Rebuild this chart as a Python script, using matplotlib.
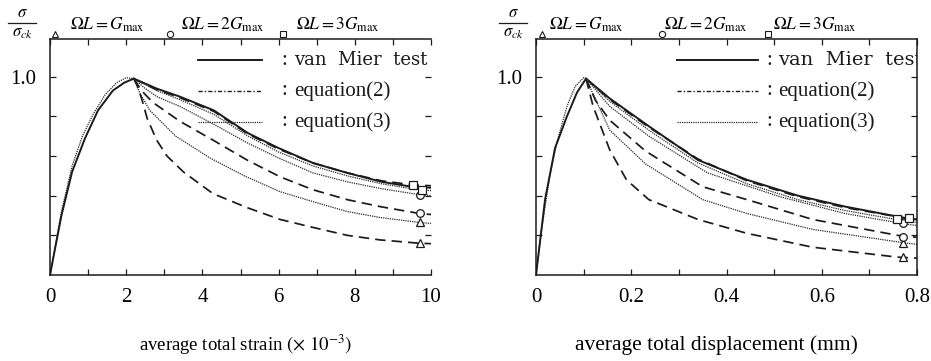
import matplotlib
matplotlib.use("Agg")
import matplotlib.pyplot as plt
from matplotlib.lines import Line2D
import numpy as np

plt.rcParams['font.family'] = ['Liberation Serif', 'DejaVu Serif']
plt.rcParams['mathtext.fontset'] = 'stix'

W, H = 931, 361

# ---- left panel: strain (x10^-3) ----
L_up_model_x = [0, 0.3, 0.58, 0.85, 1.13, 1.45, 1.75, 2.0, 2.2]
L_up_model_y = [0, 0.32, 0.55, 0.70, 0.81, 0.91, 0.97, 0.995, 0.99]
L_up_test_x = [0, 0.3, 0.58, 0.92, 1.26, 1.65, 1.95, 2.2]
L_up_test_y = [0, 0.30, 0.52, 0.69, 0.83, 0.93, 0.97, 0.99]

L_test_x = [2.2, 2.8, 3.4, 4.3, 5.2, 6.0, 6.9, 7.8, 8.7, 9.5, 10.0]
L_test_y = [0.99, 0.94, 0.90, 0.83, 0.715, 0.64, 0.565, 0.515, 0.47, 0.445, 0.44]
L_eq2_3G_y = [0.99, 0.935, 0.895, 0.825, 0.71, 0.635, 0.565, 0.515, 0.475, 0.455, 0.45]
L_eq3_3G_y = [0.99, 0.93, 0.885, 0.81, 0.70, 0.62, 0.55, 0.50, 0.46, 0.435, 0.425]
L_eq3_2G_x = [2.2, 2.5, 2.8, 3.41, 4.3, 5.17, 6.0, 6.9, 7.8, 8.7, 9.7, 10.0]
L_eq3_2G_y = [0.99, 0.94, 0.90, 0.85, 0.76, 0.667, 0.59, 0.515, 0.47, 0.435, 0.405, 0.40]
L_eq2_2G_x = [2.2, 2.4, 2.7, 3.41, 4.28, 5.17, 6.04, 6.9, 7.8, 8.66, 9.7, 10.0]
L_eq2_2G_y = [0.99, 0.93, 0.87, 0.775, 0.68, 0.58, 0.495, 0.43, 0.38, 0.345, 0.31, 0.305]
L_eq3_G_x = [2.2, 2.35, 2.62, 3.3, 4.2, 5.1, 6.04, 6.9, 7.8, 8.66, 9.7, 10.0]
L_eq3_G_y = [0.99, 0.92, 0.83, 0.70, 0.59, 0.50, 0.42, 0.37, 0.32, 0.29, 0.265, 0.26]
L_eq2_G_x = [2.2, 2.3, 2.42, 2.55, 2.8, 3.07, 3.5, 4.28, 5.17, 6.04, 6.9, 7.8, 8.66, 9.7, 10.0]
L_eq2_G_y = [0.99, 0.95, 0.88, 0.79, 0.68, 0.60, 0.52, 0.41, 0.34, 0.28, 0.24, 0.20, 0.177, 0.16, 0.158]

L_tri = ([9.71, 9.71], [0.268, 0.162])
L_cir = ([9.71, 9.71], [0.405, 0.313])
L_sq = ([9.53, 9.76], [0.455, 0.43])

# ---- right panel: displacement (mm) ----
R_up_model_x = [0, 0.01, 0.029, 0.044, 0.065, 0.082, 0.1, 0.105]
R_up_model_y = [0, 0.20, 0.50, 0.67, 0.85, 0.95, 0.995, 0.99]
R_up_test_x = [0, 0.01, 0.019, 0.04, 0.065, 0.086, 0.105]
R_up_test_y = [0, 0.20, 0.38, 0.64, 0.80, 0.92, 0.99]

R_test_x = [0.105, 0.155, 0.237, 0.34, 0.443, 0.55, 0.649, 0.78, 0.8]
R_test_y = [0.99, 0.89, 0.75, 0.58, 0.48, 0.40, 0.345, 0.285, 0.28]
R_eq2_3G_y = [0.99, 0.885, 0.745, 0.585, 0.475, 0.395, 0.34, 0.285, 0.28]
R_eq3_3G_y = [0.99, 0.875, 0.73, 0.565, 0.46, 0.38, 0.325, 0.27, 0.265]
R_eq3_2G_x = [0.105, 0.155, 0.237, 0.36, 0.512, 0.649, 0.78, 0.8]
R_eq3_2G_y = [0.99, 0.85, 0.70, 0.515, 0.395, 0.31, 0.255, 0.25]
R_eq2_2G_x = [0.105, 0.125, 0.155, 0.23, 0.35, 0.443, 0.581, 0.759, 0.8]
R_eq2_2G_y = [0.99, 0.88, 0.78, 0.625, 0.445, 0.38, 0.28, 0.20, 0.19]
R_eq3_G_x = [0.105, 0.13, 0.155, 0.23, 0.35, 0.443, 0.581, 0.78, 0.8]
R_eq3_G_y = [0.99, 0.86, 0.73, 0.56, 0.38, 0.31, 0.23, 0.16, 0.155]
R_eq2_G_x = [0.105, 0.12, 0.155, 0.19, 0.237, 0.34, 0.443, 0.581, 0.759, 0.8]
R_eq2_G_y = [0.99, 0.85, 0.63, 0.48, 0.38, 0.28, 0.21, 0.14, 0.09, 0.085]

R_tri = ([0.77, 0.77], [0.16, 0.09])
R_cir = ([0.77, 0.77], [0.26, 0.19])
R_sq = ([0.758, 0.784], [0.28, 0.285])

legend_labels = ['van  Mier  test', 'equation(2)', 'equation(3)']
header_labels = [r'$\Omega L = G_{\rm max}$', r'$\Omega L = 2G_{\rm max}$', r'$\Omega L = 3G_{\rm max}$']

INK = '#1b1b1b'
test_kw = dict(color=INK, lw=1.4, ls='-')
eq2_kw = dict(color=INK, lw=1.25, ls=(0, (6, 3.5)))
eq3_kw = dict(color='#2a2a2a', lw=0.9, ls=(0, (1, 0.8)))
mk_kw = dict(ls='none', mfc='white', mec=INK, mew=0.9, ms=5.5, zorder=5)

fig = plt.figure(figsize=(W / 100, H / 100), dpi=100)


def px(x, y):
    return x / W, 1 - y / H


def panel(x0, up_m, up_t, test, eq2, eq3, marks, xmax, xmajor, xminor, xfmt, spine_right):
    ax = fig.add_axes([x0 / W, 1 - 275 / H, 381 / W, 236 / H])
    ax.plot(*up_m, **eq3_kw)
    ax.plot(*up_t, **test_kw)
    ax.plot(*test, **test_kw)
    for xs, ys in eq2:
        ax.plot(xs, ys, **eq2_kw)
    for xs, ys in eq3:
        ax.plot(xs, ys, **eq3_kw)
    for (mx, my), m in zip(marks, ['^', 'o', 's']):
        ax.plot(mx, my, marker=m, **mk_kw)
    ax.set_xlim(0, xmax)
    ax.set_ylim(0, 1.19)
    ax.set_xticks(xmajor)
    ax.set_xticklabels([xfmt(v) for v in xmajor])
    ax.set_xticks(xminor, minor=True)
    ax.set_yticks([0.2, 0.4, 0.6, 0.8, 1.0])
    ax.set_yticklabels(['', '', '', '', '1.0'])
    ax.tick_params(which='both', direction='in', length=4, width=0.9,
                   top=True, right=True, labelsize=15, color=INK)
    ax.tick_params(axis='x', pad=9)
    ax.tick_params(axis='y', pad=10)
    for s in ax.spines.values():
        s.set_linewidth(1.1)
        s.set_color(INK)
    ax.spines['right'].set_visible(spine_right)
    return ax


axL = panel(50, (L_up_model_x, L_up_model_y), (L_up_test_x, L_up_test_y),
            (L_test_x, L_test_y),
            [(L_test_x, L_eq2_3G_y), (L_eq2_2G_x, L_eq2_2G_y), (L_eq2_G_x, L_eq2_G_y)],
            [(L_test_x, L_eq3_3G_y), (L_eq3_2G_x, L_eq3_2G_y), (L_eq3_G_x, L_eq3_G_y)],
            [L_tri, L_cir, L_sq], 10, [0, 2, 4, 6, 8, 10], np.arange(0, 11, 1),
            lambda v: '%d' % v, False)
axR = panel(536, (R_up_model_x, R_up_model_y), (R_up_test_x, R_up_test_y),
            (R_test_x, R_test_y),
            [(R_test_x, R_eq2_3G_y), (R_eq2_2G_x, R_eq2_2G_y), (R_eq2_G_x, R_eq2_G_y)],
            [(R_test_x, R_eq3_3G_y), (R_eq3_2G_x, R_eq3_2G_y), (R_eq3_G_x, R_eq3_G_y)],
            [R_tri, R_cir, R_sq], 0.8, [0, 0.2, 0.4, 0.6, 0.8], np.arange(0, 0.81, 0.1),
            lambda v: '0' if v == 0 else '%.1f' % v, True)

# legends drawn inside each panel
leg_styles = [test_kw, dict(color=INK, lw=1.0, ls=(0, (3, 1.5, 1, 1.5))), eq3_kw]
leg_fonts = [['DejaVu Serif'], ['Liberation Serif'], ['Liberation Serif']]
for ax, (lx0, lx1, cx, tx, fs0) in [(axL, (0.388, 0.556, 0.607, 0.64, 13)),
                                    (axR, (0.370, 0.583, 0.605, 0.635, 14))]:
    for i, (lab, st, fam) in enumerate(zip(legend_labels, leg_styles, leg_fonts)):
        yy = 0.911 - i * 0.131
        ax.plot([lx0, lx1], [yy, yy], transform=ax.transAxes, **st)
        ax.text(cx, yy, ':', transform=ax.transAxes, fontsize=15,
                va='center', ha='left', color=INK)
        ax.text(tx, yy, lab, transform=ax.transAxes, fontsize=15 if i else fs0,
                family=fam, va='center', ha='left', clip_on=True, color=INK)

# headers above panels
for sx, mks, txs in [(22, [(55, '^'), (170, 'o'), (283, 's')], [70, 181, 296]),
                     (513, [(542, '^'), (662, 'o'), (768, 's')], [549, 664, 773])]:
    fig.text(*px(sx, 13), r'$\sigma$', fontsize=12, ha='center', va='center')
    fig.add_artist(Line2D([(sx - 14) / W, (sx + 14) / W], [1 - 23 / H] * 2,
                          color=INK, lw=0.9))
    fig.text(*px(sx, 33), r'$\sigma_{ck}$', fontsize=12, ha='center', va='center')
    for (mx, m), lab, tx in zip(mks, header_labels, txs):
        fig.add_artist(Line2D([mx / W], [1 - 34 / H], marker=m, ms=4.5,
                              mfc='white', mec=INK, mew=0.8))
        fig.text(*px(tx, 25), lab, fontsize=12.5, ha='left', va='center')

fig.text(*px(246, 345), r'average total strain $(\times\ 10^{-3})$', fontsize=13.5,
         ha='center', va='center')
fig.text(*px(716, 345), 'average total displacement (mm)', fontsize=15.5,
         ha='center', va='center')

fig.savefig('out.png', dpi=100)
